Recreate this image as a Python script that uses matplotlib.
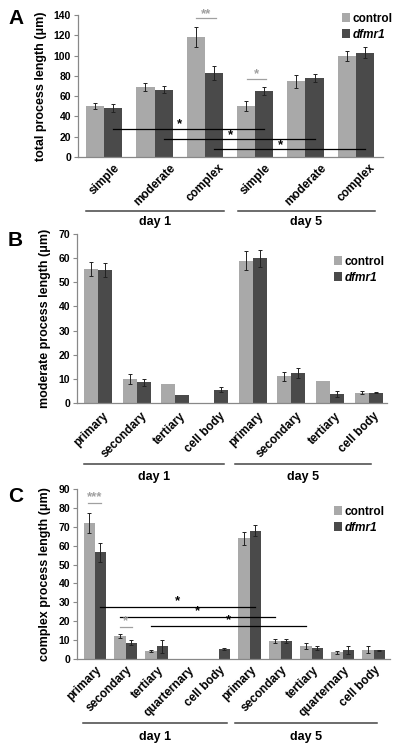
import matplotlib
matplotlib.use("Agg")
import matplotlib.pyplot as plt
import matplotlib.transforms as mtransforms
import numpy as np

plt.rcParams['font.family'] = ['Liberation Sans', 'DejaVu Sans']
plt.rcParams['font.weight'] = 'bold'

C_CTRL = '#a9a9a9'
C_MUT = '#4a4a4a'
C_AX = '#888888'
C_SIG = '#a0a0a0'

# ---------------- data ----------------
a_cats = ['simple', 'moderate', 'complex', 'simple', 'moderate', 'complex']
a_ctrl = [50, 69, 118, 50.5, 74.5, 100]
a_ctrl_err = [3, 4, 10, 5, 6, 5]
a_mut = [48.5, 66.5, 82.5, 65, 78, 103]
a_mut_err = [4, 3.5, 7, 4, 4, 5]

b_cats = ['primary', 'secondary', 'tertiary', 'cell body',
          'primary', 'secondary', 'tertiary', 'cell body']
b_ctrl = [55.5, 10, 8, 0, 59, 11, 9.2, 4.3]
b_ctrl_err = [3, 2, 0, 0, 4, 2, 0, 0.5]
b_mut = [55, 8.5, 3.3, 5.5, 60, 12.5, 3.8, 4.3]
b_mut_err = [3, 1.5, 0, 1, 3.5, 2, 1.3, 0.3]

c_cats = ['primary', 'secondary', 'tertiary', 'quarternary', 'cell body',
          'primary', 'secondary', 'tertiary', 'quarternary', 'cell body']
c_ctrl = [72, 12, 4.2, 0, 0, 64, 9.5, 7, 3.5, 5]
c_ctrl_err = [5.5, 1, 0.5, 0, 0, 3.5, 1, 1.5, 1, 1.8]
c_mut = [56.5, 8.5, 6.8, 0, 5.2, 68, 9.5, 6, 4.8, 4.6]
c_mut_err = [5, 1.3, 3.5, 0, 0.5, 3, 1, 1, 2, 0.3]

W = 0.36
H = 743.0

fig = plt.figure(figsize=(4.0, 7.43), dpi=100)

def px_axes(l, r, top, bot):
    return fig.add_axes([l / 400.0, 1 - bot / H, (r - l) / 400.0, (bot - top) / H])

def base(ax, cats, ctrl, ctrl_err, mut, mut_err, ymax, ystep, ylabel, xlim,
         lab_ha, lab_dx, lab_dy, leg_xy):
    x = np.arange(len(cats))
    ax.bar(x - W / 2, ctrl, W, color=C_CTRL, label='control', zorder=2)
    ax.bar(x + W / 2, mut, W, color=C_MUT, label='dfmr1', zorder=2)
    ekw = dict(fmt='none', ecolor='#222222', elinewidth=0.7, capsize=1.6,
               capthick=0.7, zorder=3)
    ce = np.array(ctrl_err, float); me = np.array(mut_err, float)
    mc = ce > 0; mm = me > 0
    ax.errorbar((x - W / 2)[mc], np.array(ctrl)[mc], yerr=ce[mc], **ekw)
    ax.errorbar((x + W / 2)[mm], np.array(mut)[mm], yerr=me[mm], **ekw)
    ax.set_xlim(*xlim)
    ax.set_ylim(0, ymax)
    ax.set_yticks(np.arange(0, ymax + 0.1, ystep))
    ax.set_xticks(x)
    ax.set_xticklabels([])
    tr = mtransforms.blended_transform_factory(ax.transData, ax.transAxes) + \
        mtransforms.ScaledTranslation(lab_dx / 100.0, -lab_dy / 100.0, fig.dpi_scale_trans)
    for xi, c in zip(x, cats):
        ax.text(xi, 0, c, transform=tr, rotation=45, ha=lab_ha, va='top',
                fontsize=8.5, fontweight='bold', clip_on=False)
    ax.tick_params(axis='x', length=0)
    ax.tick_params(axis='y', length=3, width=0.8, color=C_AX, labelsize=7.5, pad=2)
    for lab in ax.get_yticklabels():
        lab.set_fontweight('bold')
    for s in ['top', 'right']:
        ax.spines[s].set_visible(False)
    for s in ['left', 'bottom']:
        ax.spines[s].set_color(C_AX)
        ax.spines[s].set_linewidth(0.9)
    ax.set_ylabel(ylabel, fontsize=9, fontweight='bold', labelpad=5)
    leg = ax.legend(loc='upper left', frameon=False, fontsize=8.5,
                    handlelength=0.65, handleheight=0.8, handletextpad=0.25,
                    labelspacing=0.3, borderaxespad=0, borderpad=0,
                    bbox_to_anchor=(leg_xy[0] / 400.0, 1 - leg_xy[1] / H),
                    bbox_transform=fig.transFigure)
    texts = leg.get_texts()
    texts[0].set_fontweight('bold')
    texts[1].set_fontweight('bold')
    texts[1].set_fontstyle('italic')
    return ax

def days(ax, seg1, seg2, yline, ytext):
    tr = mtransforms.blended_transform_factory(ax.transData, ax.transAxes)
    for (x0, x1), name in zip([seg1, seg2], ['day 1', 'day 5']):
        ax.plot([x0, x1], [yline, yline], color='#444444', lw=1.1,
                transform=tr, clip_on=False)
        ax.text((x0 + x1) / 2, ytext, name, transform=tr, ha='center',
                va='center', fontsize=9, fontweight='bold')

def sig(ax, x0, x1, y, label, color='black', dy=2.0, dx=0.0, fs=9.5):
    ax.plot([x0, x1], [y, y], color=color, lw=0.9, zorder=4, clip_on=False)
    ax.text((x0 + x1) / 2 + dx, y + dy, label, ha='center', va='center',
            color=color, fontsize=fs, fontweight='bold', zorder=5, clip_on=False)

# ---------------- panel A ----------------
axA = px_axes(78, 383, 15, 157)
base(axA, a_cats, a_ctrl, a_ctrl_err, a_mut, a_mut_err, 140, 20,
     'total process length (\u03bcm)', (-0.52, 5.54), 'center', 0, 5, (342, 13))
days(axA, (-0.36, 2.38), (2.66, 5.38), -0.38, -0.46)
sig(axA, 0.18, 3.18, 28, '*', dy=4.5, dx=-0.18)
sig(axA, 1.18, 4.18, 17.5, '*', dy=4.5, dx=-0.18)
sig(axA, 2.18, 5.18, 7.5, '*', dy=4.5, dx=-0.18)
sig(axA, 1.82, 2.22, 137, '**', color=C_SIG, dy=3.5)
sig(axA, 2.84, 3.22, 77, '*', color=C_SIG, dy=5)
fig.text(8 / 400, 1 - 18 / H, 'A', fontsize=15, fontweight='bold', va='center')

# ---------------- panel B ----------------
axB = px_axes(77, 387, 234, 403)
base(axB, b_cats, b_ctrl, b_ctrl_err, b_mut, b_mut_err, 70, 10,
     'moderate process length (\u03bcm)', (-0.54, 7.47), 'right', 13, 7, (334, 256))
days(axB, (-0.36, 3.25), (3.55, 7.05), -0.361, -0.44)
fig.text(8 / 400, 1 - 240 / H, 'B', fontsize=15, fontweight='bold', va='center')

# ---------------- panel C ----------------
axC = px_axes(77, 390, 489, 659)
base(axC, c_cats, c_ctrl, c_ctrl_err, c_mut, c_mut_err, 90, 10,
     'complex process length (\u03bcm)', (-0.57, 9.53), 'right', 9, 5, (334, 506))
days(axC, (-0.38, 4.27), (4.53, 9.1), -0.376, -0.459)
sig(axC, 0.18, 5.18, 27.7, '*', dy=3)
sig(axC, 0.82, 5.82, 22.4, '*', dy=3)
sig(axC, 1.82, 6.82, 17.5, '*', dy=3)
sig(axC, -0.2, 0.2, 82.5, '***', color=C_SIG, dy=3)
sig(axC, 0.82, 1.2, 17, '*', color=C_SIG, dy=2.8)
fig.text(8 / 400, 1 - 497 / H, 'C', fontsize=15, fontweight='bold', va='center')

fig.savefig('out.png', dpi=100)
